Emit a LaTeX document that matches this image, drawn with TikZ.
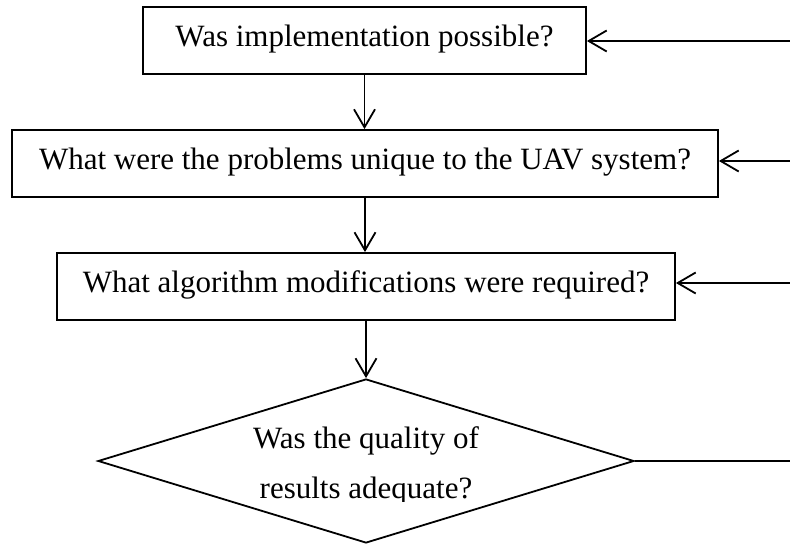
\documentclass[tikz,border=0pt]{standalone}
\usepackage{fontspec}
\setmainfont{Liberation Serif}
\usetikzlibrary{arrows.meta,shapes.geometric}

\tikzset{
  flow/.style={line width=1.8pt, draw=black},
  qbox/.style={flow, rectangle, minimum height=67pt, inner sep=0pt,
    text height=21pt, text depth=9pt,
    font=\fontsize{31}{37}\selectfont},
  decision/.style={flow, diamond, minimum width=536pt, minimum height=164pt,
    inner sep=0pt, shape aspect=3.27},
  qtext/.style={anchor=base, inner sep=0pt, font=\fontsize{31}{37}\selectfont},
  link/.style={line width=1.8pt, -{Straight Barb[length=18pt,width=21pt,line width=1.8pt]}},
  feed/.style={line width=1.8pt}
}

\begin{document}
\begin{tikzpicture}[x=1pt,y=-1pt]
  \useasboundingbox (0,0) rectangle (790,545);

  % question boxes
  \node[qbox, minimum width=443pt] (b1) at (364.5,40.5) {Was implementation possible?};
  \node[qbox, minimum width=706pt] (b2) at (365,163.5) {What were the problems unique to the UAV system?};
  \node[qbox, minimum width=618pt] (b3) at (366,286.5) {What algorithm modifications were required?};

  % decision
  \node[decision] (d) at (366,461) {};
  \begin{scope}
    \clip (0,0) rectangle (790,501);
    \node[qtext] (d1) at (366,448) {Was the quality of};
    \node[qtext] (d2) at (366,498) {results adequate?};
  \end{scope}

  % downward flow
  \draw[link] (b1.south) -- (b1.south |- b2.north);
  \draw[link] (b2.south) -- (b2.south |- b3.north);
  \draw[link] (b3.south) -- (b3.south |- d.north);

  % return paths from the right edge
  \coordinate (r1) at (790,41);
  \coordinate (r2) at (790,161);
  \coordinate (r3) at (790,283);
  \coordinate (r4) at (790,461);
  \draw[link] (r1) -- (b1.east |- r1);
  \draw[link] (r2) -- (b2.east |- r2);
  \draw[link] (r3) -- (b3.east |- r3);
  \draw[feed] (d.east) -- (r4);
\end{tikzpicture}
\end{document}
